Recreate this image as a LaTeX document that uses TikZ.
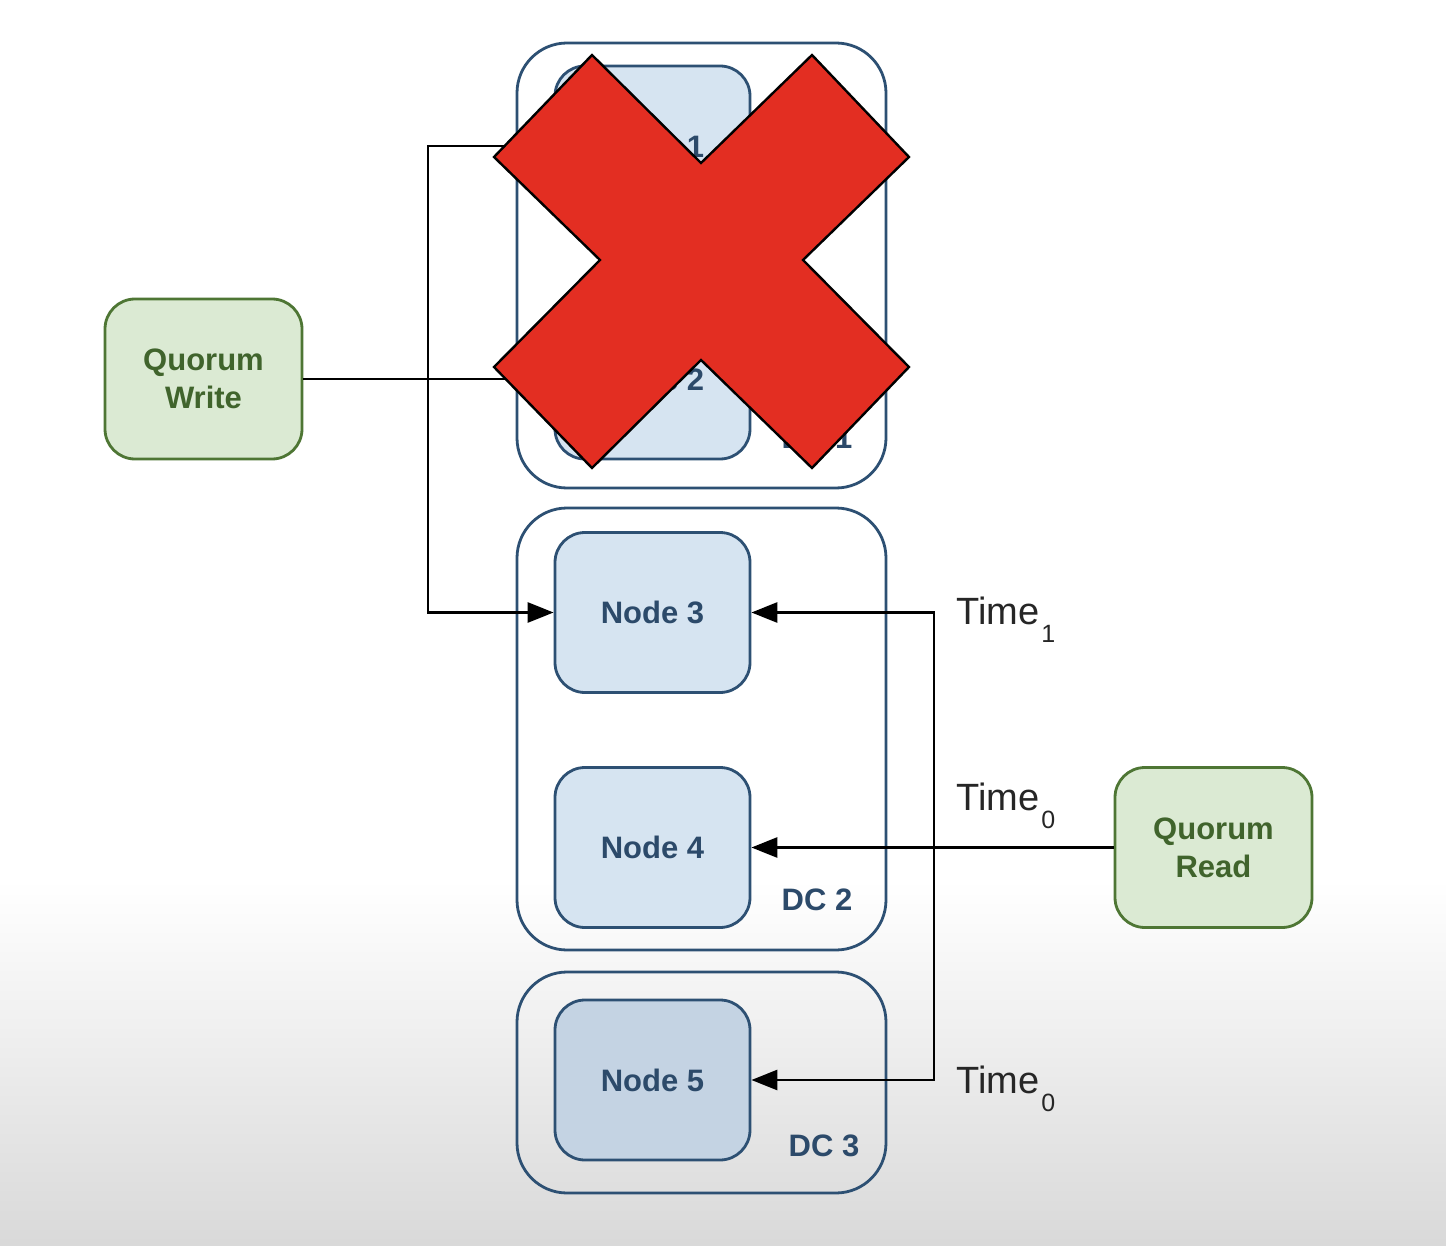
\documentclass[tikz,border=0pt]{standalone}
\usepackage{fontspec}
\setmainfont{Liberation Sans}
\usetikzlibrary{arrows.meta}
\definecolor{nodeblue}{RGB}{214,228,241}
\definecolor{nodeblueb}{RGB}{196,211,227}
\definecolor{edgeblue}{RGB}{45,80,115}
\definecolor{textblue}{RGB}{44,74,106}
\definecolor{qfill}{RGB}{219,234,211}
\definecolor{qedge}{RGB}{78,118,52}
\definecolor{qtext}{RGB}{64,100,44}
\definecolor{xred}{RGB}{227,46,34}
\tikzset{
  server/.style={draw=edgeblue, line width=1.4pt, fill=nodeblue, rounded corners=15pt,
    minimum width=97.5pt, minimum height=80pt, inner sep=0pt, text=textblue,
    font=\fontsize{15.5}{18}\selectfont\bfseries},
  dcbox/.style={draw=edgeblue, line width=1.4pt, rounded corners=25pt, inner sep=0pt},
  dclabel/.style={text=textblue, font=\fontsize{15.5}{18}\selectfont\bfseries},
  quorum/.style={draw=qedge, line width=1.4pt, fill=qfill, rounded corners=15pt,
    minimum width=98.5pt, minimum height=80pt, inner sep=0pt, text=qtext, align=center,
    font=\fontsize{15.5}{19}\selectfont\bfseries},
  link/.style={draw=black, line width=1.4pt, -{Triangle[length=13pt,width=10pt]}},
  timelabel/.style={anchor=base west, inner sep=0pt, text=black!85, font=\fontsize{19}{22}\selectfont}
}
\newcommand{\timestamp}[1]{Time\kern1pt\raisebox{-9pt}{\fontsize{12.5}{13}\selectfont #1}}
\begin{document}
\begin{tikzpicture}[x=0.5pt, y=-0.5pt]
\useasboundingbox (0,0) rectangle (1446,1246);
\fill[white] (0,0) rectangle (1446,1246);
\shade[top color=white, bottom color=black!15] (0,880) rectangle (1446,1246);
% data centres
\node[dcbox, minimum width=184.5pt, minimum height=222.5pt] (dc1) at (701.5,265.5) {};
\node[dcbox, minimum width=184.5pt, minimum height=221pt] (dc2) at (701.5,729) {};
\node[dcbox, minimum width=184.5pt, minimum height=110.5pt] (dc3) at (701.5,1082.5) {};
\node[dclabel] (dc1l) at (817,438) {DC 1};
\node[dclabel] (dc2l) at (817,900) {DC 2};
\node[dclabel] (dc3l) at (824,1146) {DC 3};
% replicas
\node[server] (n1) at (652.5,146) {Node 1};
\node[server] (n2) at (652.5,379) {Node 2};
\node[server] (n3) at (652.5,612.5) {Node 3};
\node[server] (n4) at (652.5,847.5) {Node 4};
\node[server, fill=nodeblueb] (n5) at (652.5,1080) {Node 5};
% clients
\node[quorum] (qw) at (203.5,379) {Quorum\\Write};
\node[quorum] (qr) at (1213.5,847.5) {Quorum\\Read};
% write path
\coordinate (wsplit) at (428,379);
\draw[link] (qw.east) -- (n2.west);
\draw[link] (wsplit) |- (n1.west);
\draw[link] (wsplit) |- (n3.west);
% read path
\coordinate (rsplit) at (934,847.5);
\draw[link] (qr.west) -- (n4.east);
\draw[link] (rsplit) |- (n3.east);
\draw[link] (rsplit) |- (n5.east);
\node[timelabel] (t1) at (956,624) {\timestamp{1}};
\node[timelabel] (t0a) at (956,810) {\timestamp{0}};
\node[timelabel] (t0b) at (956,1093) {\timestamp{0}};
% failed data centre
\draw[fill=xred, draw=black, line width=1.2pt, line join=miter]
  (592,55) -- (701,163) -- (812,55) -- (909,157) -- (803,260) -- (909,367)
  -- (812,468) -- (701,360) -- (592,468) -- (494,367) -- (600,260) -- (494,157) -- cycle;
\end{tikzpicture}
\end{document}
